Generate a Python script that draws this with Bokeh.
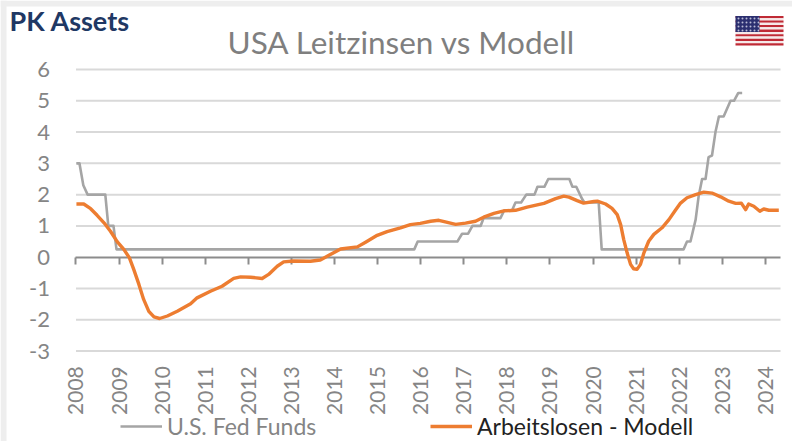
from bokeh.plotting import figure
from bokeh.embed import file_html
from bokeh.resources import INLINE
from bokeh.models import (BoxAnnotation, FixedTicker, Label, Legend, LegendItem,
                          LinearAxis, Range1d)

FONT = "Lato"
title_text = "USA Leitzinsen vs  Modell"
logo_text = "PK Assets"
fed_label = "U.S. Fed Funds"
model_label = "Arbeitslosen - Modell"
year_ticks = list(range(2008, 2025))
value_ticks = [-3, -2, -1, 0, 1, 2, 3, 4, 5, 6]
value_labels = {-3: "-3", -2: "-2", -1: "-1"}

fed_year = [2008.01, 2008.08, 2008.17, 2008.27, 2008.68, 2008.75, 2008.87, 2008.94,
            2015.85, 2015.93, 2016.85, 2016.96, 2017.10, 2017.20, 2017.39, 2017.46,
            2017.85, 2017.94, 2018.12, 2018.20, 2018.33, 2018.45, 2018.64, 2018.71,
            2018.87, 2018.96, 2019.45, 2019.52, 2019.61, 2019.75, 2019.80, 2020.13,
            2020.20, 2022.10, 2022.18, 2022.26, 2022.38, 2022.45, 2022.53, 2022.61,
            2022.68, 2022.76, 2022.84, 2022.92, 2023.03, 2023.19, 2023.27, 2023.37,
            2023.46]
fed_rate = [3.0, 3.0, 2.3, 2.0, 2.0, 1.0, 1.0, 0.25,
            0.25, 0.5, 0.5, 0.75, 0.75, 1.0, 1.0, 1.25,
            1.25, 1.5, 1.5, 1.75, 1.75, 2.0, 2.0, 2.25,
            2.25, 2.5, 2.5, 2.25, 2.25, 1.85, 1.75, 1.75,
            0.25, 0.25, 0.5, 0.5, 1.2, 1.95, 2.5, 2.5,
            3.2, 3.25, 4.0, 4.5, 4.5, 5.0, 5.0, 5.25,
            5.25]

model_year = [2008.01, 2008.18, 2008.34, 2008.49, 2008.65, 2008.80, 2008.96, 2009.11,
              2009.24, 2009.34, 2009.46, 2009.57, 2009.69, 2009.81, 2009.94, 2010.12,
              2010.35, 2010.66, 2010.81, 2011.12, 2011.39, 2011.66, 2011.82, 2012.05,
              2012.32, 2012.47, 2012.67, 2012.82, 2013.05, 2013.44, 2013.67, 2013.87,
              2014.14, 2014.53, 2014.72, 2014.99, 2015.22, 2015.53, 2015.76, 2015.99,
              2016.23, 2016.42, 2016.57, 2016.81, 2017.04, 2017.27, 2017.46, 2017.70,
              2017.93, 2018.20, 2018.47, 2018.86, 2019.13, 2019.32, 2019.44, 2019.63,
              2019.78, 2020.02, 2020.10, 2020.29, 2020.44, 2020.56, 2020.64, 2020.71,
              2020.79, 2020.87, 2020.94, 2021.02, 2021.10, 2021.18, 2021.29, 2021.41,
              2021.60, 2021.76, 2021.91, 2022.03, 2022.18, 2022.38, 2022.57, 2022.76,
              2022.96, 2023.15, 2023.31, 2023.44, 2023.54, 2023.61, 2023.73, 2023.87,
              2023.96, 2024.08, 2024.31]
model_rate = [1.70, 1.70, 1.55, 1.34, 1.10, 0.83, 0.49, 0.25,
              -0.02, -0.39, -0.87, -1.35, -1.73, -1.91, -1.96, -1.88,
              -1.73, -1.49, -1.30, -1.09, -0.93, -0.68, -0.63, -0.64,
              -0.68, -0.55, -0.29, -0.15, -0.12, -0.13, -0.09, 0.06,
              0.26, 0.33, 0.48, 0.70, 0.82, 0.94, 1.04, 1.08,
              1.15, 1.18, 1.13, 1.05, 1.09, 1.15, 1.28, 1.40,
              1.48, 1.50, 1.60, 1.72, 1.87, 1.95, 1.92, 1.81,
              1.73, 1.78, 1.79, 1.70, 1.56, 1.36, 1.04, 0.57,
              0.14, -0.23, -0.37, -0.39, -0.23, 0.14, 0.51, 0.73,
              0.94, 1.20, 1.50, 1.73, 1.90, 2.00, 2.08, 2.05,
              1.93, 1.79, 1.72, 1.73, 1.52, 1.70, 1.63, 1.47,
              1.54, 1.50, 1.50]

GREY_TEXT = "#858585"
GRID_LEFT, GRID_RIGHT = 2008, 2024.35
PAGE_H = 441

# The frame fills the whole page: annotations are clipped to it.
p = figure(width=792, height=PAGE_H, output_backend="svg", toolbar_location=None,
           x_range=Range1d(2006.248, 2024.628), y_range=Range1d(-5.892, 8.206),
           x_axis_location=None, y_axis_location=None,
           min_border=0, min_border_left=0, min_border_right=0, min_border_top=0,
           min_border_bottom=0, background_fill_color="white", border_fill_color="white",
           outline_line_color=None)
p.grid.visible = False

grid_values = [v for v in value_ticks if v != 0]
p.segment(x0=[GRID_LEFT] * len(grid_values), y0=grid_values,
          x1=[GRID_RIGHT] * len(grid_values), y1=grid_values,
          line_color="#d9d9d9", line_width=2, level="underlay")

y_axis = LinearAxis(ticker=FixedTicker(ticks=value_ticks), fixed_location=GRID_LEFT,
                    axis_line_color=None, major_tick_line_color=None, minor_tick_line_color=None,
                    major_label_text_font=FONT, major_label_text_font_size="22px",
                    major_label_text_color=GREY_TEXT, major_label_standoff=20,
                    major_label_overrides=value_labels)
p.add_layout(y_axis, "left")

x_axis = LinearAxis(ticker=FixedTicker(ticks=year_ticks), fixed_location=0,
                    bounds=(GRID_LEFT, GRID_RIGHT), level="underlay",
                    axis_line_color="#8c8c8c", axis_line_width=2,
                    major_tick_line_color="#8c8c8c", major_tick_line_width=2,
                    major_tick_in=0, major_tick_out=7, minor_tick_line_color=None,
                    major_label_orientation=1.5708, major_label_text_font=FONT,
                    major_label_text_font_size="21px", major_label_text_color=GREY_TEXT,
                    major_label_standoff=102)
p.add_layout(x_axis, "below")

fed = p.line(fed_year, fed_rate, line_color="#a5a5a5", line_width=2.6, line_join="round")
model = p.line(model_year, model_rate, line_color="#ed7d31", line_width=3.4, line_join="round")


def add_legend(label, renderer, color, x):
    lg = Legend(items=[LegendItem(label=label, renderers=[renderer])], location=(x, 1),
                orientation="horizontal", border_line_color=None,
                background_fill_alpha=0, padding=0, margin=0, spacing=0,
                glyph_width=42, glyph_height=22, label_standoff=5, label_height=22,
                label_text_font=FONT, label_text_font_size="23px",
                label_text_color=color)
    p.add_layout(lg, "center")


add_legend(fed_label, fed, GREY_TEXT, 120)
add_legend(model_label, model, "#222222", 430)


def page_box(left, right, top, bottom, **kw):
    """A box given in pixels from the page's top left corner."""
    p.add_layout(BoxAnnotation(left=left, right=right, top=PAGE_H - top, bottom=PAGE_H - bottom,
                               left_units="screen", right_units="screen",
                               top_units="screen", bottom_units="screen",
                               fill_alpha=1, line_color=None, **kw))


# slide edge
page_box(0, 792, 0, 6, fill_color="#eeeeee")
page_box(0, 6, 0, PAGE_H, fill_color="#eeeeee")

# flag
flag_left, flag_right, flag_top, flag_bottom = 735, 783, 15.5, 45
stripe = (flag_bottom - flag_top) / 13
for i in range(13):
    page_box(flag_left, flag_right, flag_top + i * stripe, flag_top + (i + 1) * stripe,
             fill_color="#bf2a35" if i % 2 == 0 else "#f6e9e9")
page_box(flag_left, 759, flag_top, flag_top + 7 * stripe, fill_color="#2b2f70",
         hatch_pattern="dot", hatch_color="#b9bbd6", hatch_scale=4, hatch_weight=1)

p.add_layout(Label(x=227, y=PAGE_H - 41, x_units="screen", y_units="screen", text=title_text,
                   text_font=FONT, text_font_size="31.5px", text_color="#7f7f7f",
                   text_baseline="alphabetic"))
p.add_layout(Label(x=9, y=PAGE_H - 20, x_units="screen", y_units="screen", text=logo_text,
                   text_font=FONT, text_font_size="27px", text_font_style="bold",
                   text_color="#1f3864", text_baseline="alphabetic"))

open("out.html", "w").write(file_html(p, INLINE))
